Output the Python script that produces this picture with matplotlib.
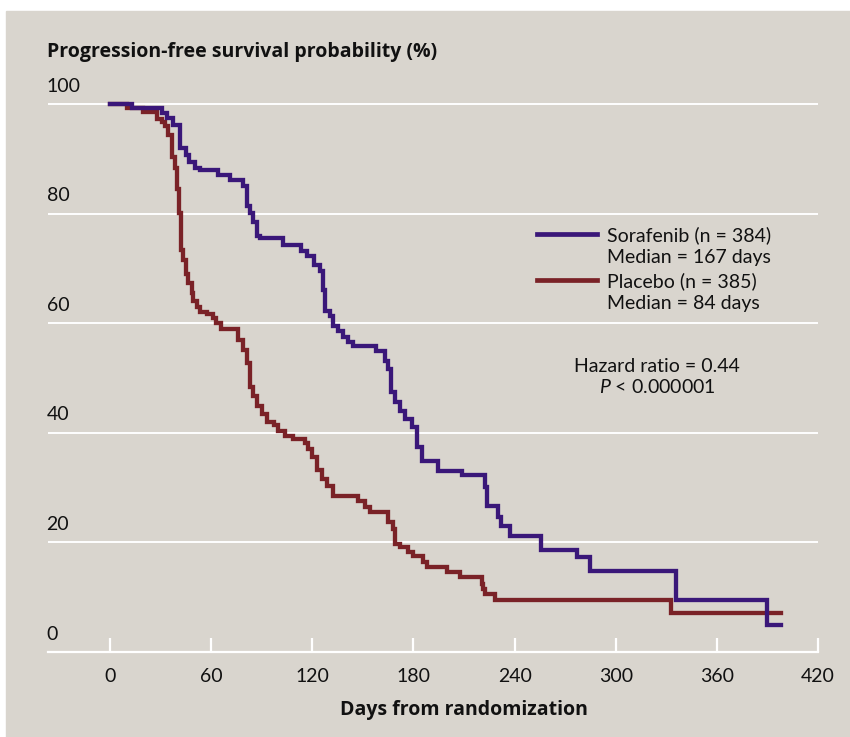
import matplotlib
matplotlib.use("Agg")
import matplotlib.pyplot as plt
from matplotlib.lines import Line2D
from matplotlib.patches import Rectangle
import matplotlib.transforms as mtransforms

plt.rcParams["font.family"] = ["Lato", "DejaVu Sans"]
plt.rcParams["mathtext.fontset"] = "custom"
plt.rcParams["mathtext.it"] = "Lato:italic"
plt.rcParams["mathtext.rm"] = "Lato"

# Kaplan-Meier steps (days, % progression-free)
sorafenib_t = [0, 13, 31, 34, 37.4, 41.5, 45, 47, 50.4, 53.4, 64, 71, 79, 81,
               83, 85, 87, 89, 102.7, 113, 117, 121, 124.5, 126.5, 127.5,
               130.5, 132, 135, 138, 141, 144, 158, 163, 165, 166.5, 169,
               172, 175, 179, 182, 185, 194.6, 208.6, 222.4, 223.5, 230, 232,
               237, 255.5, 277, 284.7, 335.7, 390, 398]
sorafenib_s = [100, 99.3, 98.4, 97.5, 96.2, 92.0, 90.7, 89.5, 88.4, 88.0,
               87.1, 86.2, 85.0, 81.3, 80.2, 78.4, 75.9, 75.6, 74.3, 73.2,
               72.2, 70.7, 69.5, 66.1, 62.2, 61.3, 59.5, 58.6, 57.4, 56.5,
               55.8, 54.9, 53.1, 51.6, 47.4, 45.6, 44.0, 42.5, 41.0, 37.4,
               34.9, 33.1, 32.3, 30.2, 26.6, 24.7, 23.0, 21.1, 18.7, 17.3,
               14.8, 9.5, 4.9, 4.9]

placebo_t = [0, 10, 19.6, 27.7, 30.6, 32.6, 34.5, 36.6, 38.6, 39.5, 41, 42,
             43.5, 45, 46.4, 48.4, 49.3, 51.4, 53.4, 57.3, 61, 63, 66, 76,
             79, 81, 83, 85, 87, 90, 93, 97, 99.6, 103.8, 108.5, 115.6,
             117.4, 119.6, 122.6, 125.6, 128.5, 132, 147, 151, 154, 165, 168,
             169, 172, 177, 180, 185.7, 188, 200, 207.6, 220.6, 221, 222.4,
             228.4, 333, 398]
placebo_s = [100, 99.3, 98.5, 97.3, 96.8, 95.9, 94.4, 90.4, 88.3, 84.4, 80.2,
             73.4, 71.6, 68.9, 67.4, 65.6, 64.0, 62.9, 62.0, 61.6, 61.0, 60.1,
             58.9, 56.9, 55.2, 52.8, 48.3, 46.7, 44.9, 43.4, 41.9, 41.4, 40.3,
             39.4, 38.8, 38.2, 37.0, 35.5, 33.3, 31.5, 30.3, 28.5, 27.6, 26.4,
             25.5, 23.7, 22.4, 19.7, 19.1, 18.2, 17.5, 16.4, 15.6, 14.6, 13.7,
             12.4, 11.5, 10.6, 9.5, 7.2, 7.2]

x_ticks = [0, 60, 120, 180, 240, 300, 360, 420]
y_ticks = [0, 20, 40, 60, 80, 100]

labels_sorafenib = ["Sorafenib (n = 384)", "Median = 167 days"]
labels_placebo = ["Placebo (n = 385)", "Median = 84 days"]

assert len(sorafenib_t) == len(sorafenib_s)
assert len(placebo_t) == len(placebo_s)

COLOR_SORA = "#3a1779"
COLOR_PLAC = "#7a2227"
PANEL = "#d9d5ce"
TXT = "#111111"
BOLD_FONT = ["Open Sans", "DejaVu Sans"]

fig = plt.figure(figsize=(8.5, 7.37), dpi=100, facecolor="white")
fig.patches.append(Rectangle((6 / 850, 0), 1, 1 - 11 / 737,
                             transform=fig.transFigure, color=PANEL,
                             zorder=-5))

ax = fig.add_axes([48 / 850, 1 - 652 / 737, 770 / 850, 552 / 737])
ax.set_zorder(2)
ax.set_facecolor(PANEL)
ax.set_xlim(-36.8, 420)
ax.set_ylim(0, 100.73)

for v in y_ticks[1:]:
    ax.axhline(v, color="white", lw=1.4, zorder=1)

ax.step(placebo_t, placebo_s, where="post", color=COLOR_PLAC, lw=3.1,
        zorder=3, solid_joinstyle="miter")
ax.step(sorafenib_t, sorafenib_s, where="post", color=COLOR_SORA, lw=3.1,
        zorder=4, solid_joinstyle="miter")

for s in ["top", "right", "left"]:
    ax.spines[s].set_visible(False)
ax.spines["bottom"].set_color("white")
ax.spines["bottom"].set_linewidth(1.6)

ax.set_xticks(x_ticks)
ax.set_xticklabels([str(t) for t in x_ticks])
ax.tick_params(axis="x", direction="in", length=10, width=1.6, color="white",
               labelsize=14, pad=11.5, labelcolor=TXT)
ax.set_yticks([])

# y tick labels sit above their gridlines, flush left
trans = mtransforms.offset_copy(ax.get_yaxis_transform(), fig=fig, x=-1,
                                y=9, units="points")
for v in y_ticks:
    ax.text(0, v, str(v), transform=trans, ha="left", va="baseline",
            fontsize=14, color=TXT)

ax.set_xlabel("Days from randomization", fontsize=14, fontweight="bold",
              family=BOLD_FONT, color=TXT)
ax.xaxis.set_label_coords(0.540, -0.087)
fig.text(47 / 850, 1 - 52 / 737, "Progression-free survival probability (%)",
         fontsize=14, fontweight="bold", ha="left", va="center",
         family=BOLD_FONT, color=TXT)

handles = [Line2D([], [], color=COLOR_SORA, lw=3.4),
           Line2D([], [], color="none"),
           Line2D([], [], color=COLOR_PLAC, lw=3.4),
           Line2D([], [], color="none")]
leg = ax.legend(handles, labels_sorafenib + labels_placebo, loc="upper left",
                bbox_to_anchor=(537 / 850, 1 - 226 / 737),
                bbox_transform=fig.transFigure, frameon=False, fontsize=14,
                handlelength=3.1, handletextpad=0.5, labelspacing=0.28,
                borderpad=0, borderaxespad=0)
for t in leg.get_texts():
    t.set_color(TXT)

ax.text(0.791, 0.498, "Hazard ratio = 0.44\n$\\it{P}$ < 0.000001",
        transform=ax.transAxes, ha="center", va="center", fontsize=14,
        linespacing=1.2, color=TXT)

fig.savefig("out.png", dpi=100, facecolor="white")
